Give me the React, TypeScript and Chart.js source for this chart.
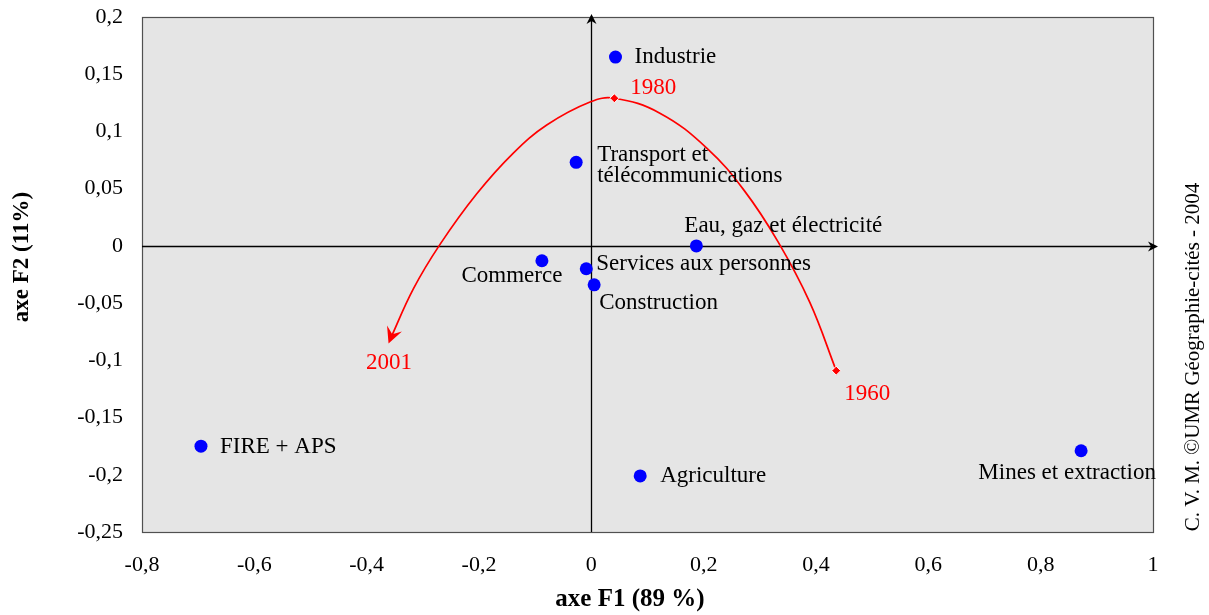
import React, { useEffect, useRef } from "react";
import { Chart, registerables } from "chart.js";

Chart.register(...registerables);

// ---- Data ----
const sectorNames = [
  "Industrie",
  "Transport et\ntélécommunications",
  "Eau, gaz et électricité",
  "Commerce",
  "Services aux personnes",
  "Construction",
  "FIRE + APS",
  "Agriculture",
  "Mines et extraction",
];
const sectorF1 = [0.043, -0.027, 0.187, -0.088, -0.009, 0.005, -0.695, 0.087, 0.872];
const sectorF2 = [0.165, 0.073, 0.0, -0.013, -0.020, -0.034, -0.175, -0.201, -0.179];

// trajectory (1960 -> 1980 -> 2001)
const trajYears = ["1960", "", "", "", "", "", "1980", "", "", "", "", "", "", "2001"];
const trajF1 = [0.436, 0.389, 0.332, 0.272, 0.206, 0.122, 0.041, -0.0023, -0.0794, -0.1389, -0.204, -0.2694, -0.3169, -0.3584];
const trajF2 = [-0.109, -0.0494, 0.0039, 0.0485, 0.0853, 0.116, 0.129, 0.1257, 0.1056, 0.0811, 0.0455, 0.0013, -0.0376, -0.082];

const xTicksMin = -0.8;
const xTicksMax = 1;
const xStep = 0.2;
const yTicksMin = -0.25;
const yTicksMax = 0.2;
const yStep = 0.05;

const xTitle = "axe F1 (89 %)";
const yTitle = "axe F2 (11%)";
const credit = "C. V. M. ©UMR Géographie-cités - 2004";

// label placement (offsets in px from the point), kept apart from data
const sectorLabelPos: { dx: number; dy: number; align: CanvasTextAlign }[] = [
  { dx: 19, dy: 0, align: "left" },
  { dx: 21, dy: -7, align: "left" },
  { dx: -12, dy: -20, align: "left" },
  { dx: -30, dy: 15, align: "center" },
  { dx: 10, dy: -5, align: "left" },
  { dx: 5, dy: 18, align: "left" },
  { dx: 19, dy: 1, align: "left" },
  { dx: 20, dy: 0, align: "left" },
  { dx: -14, dy: 22, align: "center" },
];
const yearLabelPos: Record<string, { dx: number; dy: number; align: CanvasTextAlign }> = {
  "1960": { dx: 8, dy: 23, align: "left" },
  "1980": { dx: 16, dy: -10, align: "left" },
  "2001": { dx: -1, dy: 23, align: "center" },
};

const FONT = "'Liberation Serif', 'Times New Roman', serif";
const fmt = (v: number) => {
  const r = Math.round(v * 100) / 100;
  return String(r).replace(".", ",");
};

const decorPlugin = {
  id: "decor",
  beforeDraw(chart: any) {
    const { ctx, chartArea: a } = chart;
    ctx.save();
    ctx.fillStyle = "#ffffff";
    ctx.fillRect(0, 0, chart.width, chart.height);
    ctx.fillStyle = "#e5e5e5";
    ctx.fillRect(a.left, a.top, a.right - a.left, a.bottom - a.top);
    ctx.restore();
  },
  beforeDatasetsDraw(chart: any) {
    const { ctx, chartArea: a, scales } = chart;
    const x0 = Math.round(scales.x.getPixelForValue(0)) + 0.5;
    const y0 = Math.round(scales.y.getPixelForValue(0)) + 0.5;
    ctx.save();
    // plot border
    ctx.strokeStyle = "#505050";
    ctx.lineWidth = 1.2;
    ctx.strokeRect(a.left + 0.5, a.top + 0.5, a.right - a.left, a.bottom - a.top);
    // axes through origin
    ctx.strokeStyle = "#000";
    ctx.lineWidth = 1.3;
    ctx.beginPath();
    ctx.moveTo(a.left, y0);
    ctx.lineTo(a.right + 2, y0);
    ctx.moveTo(x0, a.bottom);
    ctx.lineTo(x0, a.top - 1);
    // small origin tick
    ctx.moveTo(x0 - 4, y0);
    ctx.lineTo(x0 + 4, y0);
    ctx.stroke();
    ctx.fillStyle = "#000";
    // right arrow
    ctx.beginPath();
    ctx.moveTo(a.right + 5, y0);
    ctx.lineTo(a.right - 5, y0 - 5);
    ctx.lineTo(a.right - 2, y0);
    ctx.lineTo(a.right - 5, y0 + 5);
    ctx.closePath();
    ctx.fill();
    // top arrow
    ctx.beginPath();
    ctx.moveTo(x0, a.top - 3);
    ctx.lineTo(x0 - 5, a.top + 7);
    ctx.lineTo(x0, a.top + 4);
    ctx.lineTo(x0 + 5, a.top + 7);
    ctx.closePath();
    ctx.fill();
    ctx.restore();
  },
  afterDatasetsDraw(chart: any) {
    const { ctx } = chart;
    ctx.save();
    // arrow head at end of trajectory
    const tm = chart.getDatasetMeta(0).data;
    const n = tm.length;
    const p1 = tm[n - 2];
    const p2 = tm[n - 1];
    const ang = Math.atan2(p2.y - p1.y, p2.x - p1.x) - 0.05;
    ctx.translate(p2.x, p2.y);
    ctx.rotate(ang);
    ctx.fillStyle = "#ff0000";
    ctx.beginPath();
    ctx.moveTo(4, 0);
    ctx.lineTo(-12, -8);
    ctx.lineTo(-6, 0);
    ctx.lineTo(-12, 8);
    ctx.closePath();
    ctx.fill();
    ctx.restore();

    ctx.save();
    ctx.font = `23px ${FONT}`;
    ctx.textBaseline = "middle";
    // sector labels
    const sm = chart.getDatasetMeta(1).data;
    sectorNames.forEach((name, i) => {
      const p = sm[i];
      const pos = sectorLabelPos[i];
      ctx.fillStyle = "#000";
      ctx.textAlign = pos.align;
      name.split("\n").forEach((line, j) => {
        ctx.fillText(line, p.x + pos.dx, p.y + pos.dy + j * 21);
      });
    });
    // year labels
    trajYears.forEach((yr, i) => {
      if (!yr) return;
      const p = tm[i];
      const pos = yearLabelPos[yr];
      ctx.fillStyle = "#ff0000";
      ctx.textAlign = pos.align;
      ctx.fillText(yr, p.x + pos.dx, p.y + pos.dy);
    });
    ctx.restore();
  },
  afterDraw(chart: any) {
    const { ctx } = chart;
    ctx.save();
    ctx.fillStyle = "#000";
    ctx.textAlign = "center";
    ctx.textBaseline = "middle";
    ctx.font = `bold 25px ${FONT}`;
    ctx.fillText(xTitle, 630, 600);
    ctx.save();
    ctx.font = `bold 23px ${FONT}`;
    ctx.translate(22, 257);
    ctx.rotate(-Math.PI / 2);
    ctx.fillText(yTitle, 0, 0);
    ctx.restore();
    ctx.font = `21px ${FONT}`;
    ctx.translate(1193, 357);
    ctx.rotate(-Math.PI / 2);
    ctx.fillText(credit, 0, 0);
    ctx.restore();
  },
};

export default function App() {
  const ref = useRef<HTMLCanvasElement | null>(null);
  useEffect(() => {
    const canvas = ref.current;
    if (!canvas) return;
    const chart = new Chart(canvas, {
      type: "scatter",
      data: {
        datasets: [
          {
            label: "trajectoire",
            data: trajF1.map((x, i) => ({ x, y: trajF2[i] })),
            showLine: true,
            borderColor: "#ff0000",
            borderWidth: 1.7,
            tension: 0.4,
            backgroundColor: "#ff0000",
            pointBackgroundColor: "#ff0000",
            pointBorderColor: "#ffffff",
            pointBorderWidth: 1,
            pointStyle: "rectRot",
            pointRadius: (c: any) =>
              trajYears[c.dataIndex] && c.dataIndex !== trajYears.length - 1 ? 4.5 : 0,
          } as any,
          {
            label: "secteurs",
            data: sectorF1.map((x, i) => ({ x, y: sectorF2[i] })),
            backgroundColor: "#0000ff",
            borderWidth: 0,
            pointRadius: 6.5,
          },
        ],
      },
      options: {
        animation: false,
        responsive: false,
        events: [],
        layout: { padding: { top: 17, right: 56, left: 0, bottom: 0 } },
        plugins: {
          legend: { display: false },
          tooltip: { enabled: false },
          title: { display: false },
        },
        scales: {
          x: {
            type: "linear",
            min: xTicksMin,
            max: xTicksMax,
            grid: { display: false, drawTicks: false },
            border: { display: false },
            ticks: {
              stepSize: xStep,
              callback: (v: any) => fmt(Number(v)),
              font: { family: FONT, size: 22 },
              color: "#000",
              padding: 20,
              maxRotation: 0,
              autoSkip: false,
            },
            afterFit: (s: any) => {
              s.height = 83;
              s.paddingLeft = 0;
              s.paddingRight = 0;
            },
          },
          y: {
            type: "linear",
            min: yTicksMin,
            max: yTicksMax,
            grid: { display: false, drawTicks: false },
            border: { display: false },
            ticks: {
              stepSize: yStep,
              callback: (v: any) => fmt(Number(v)),
              font: { family: FONT, size: 22 },
              color: "#000",
              padding: 19,
              autoSkip: false,
            },
            afterFit: (s: any) => {
              s.width = 142;
              s.paddingTop = 0;
              s.paddingBottom = 0;
            },
          },
        },
      },
      plugins: [decorPlugin],
    });
    return () => chart.destroy();
  }, []);
  return (
    <div style={{ position: "fixed", left: 0, top: 0, width: 1209, height: 615 }}>
      <canvas ref={ref} width={1209} height={615} style={{ display: "block" }} />
    </div>
  );
}
